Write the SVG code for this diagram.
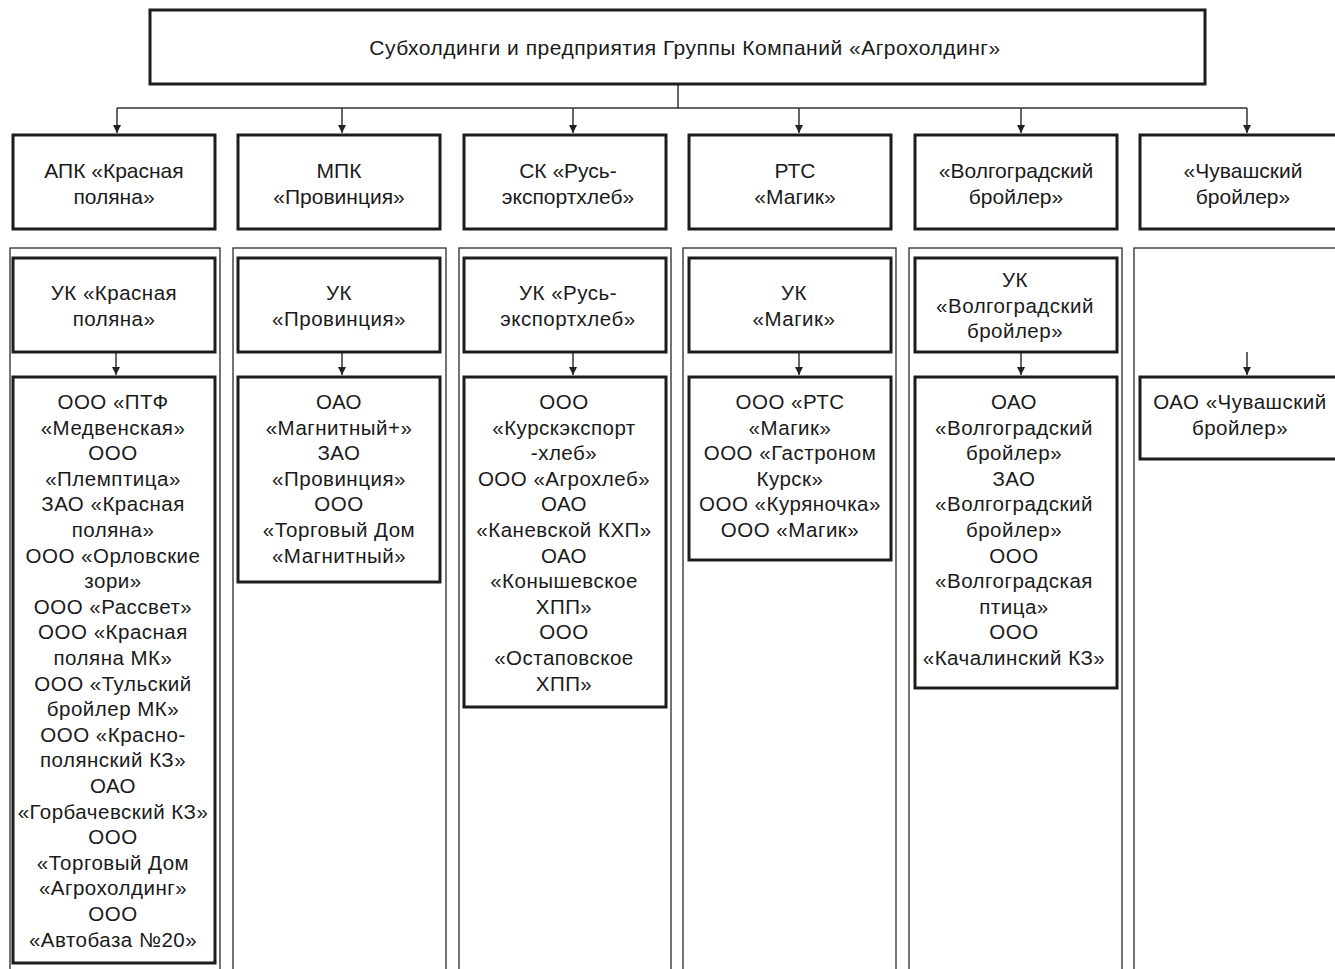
<svg xmlns="http://www.w3.org/2000/svg" width="1335" height="969" viewBox="0 0 1335 969">
<style>
.box{fill:#fff;stroke:#1c1c1c;stroke-width:3}
.col{fill:none;stroke:#3a3a3a;stroke-width:1.4}
.conn{fill:none;stroke:#333;stroke-width:1.5}
text{font-family:"Liberation Sans",Arial,sans-serif;fill:#1a1a1a;text-anchor:middle}
.t1{font-size:21px;letter-spacing:0.5px}
.t2{font-size:21px}
.t3{font-size:20.5px;letter-spacing:0.5px}
</style>
<defs>
<marker id="ah" viewBox="0 0 10 10" refX="10" refY="5" markerWidth="8" markerHeight="8" markerUnits="userSpaceOnUse" orient="auto">
<path d="M0,0 L10,5 L0,10 z" fill="#222"/>
</marker>
</defs>
<rect x="0" y="0" width="1335" height="969" fill="#fff"/>

<g id="columns">
<rect class="col" x="10" y="248" width="210" height="740"/>
<rect class="col" x="233" y="248" width="213" height="740"/>
<rect class="col" x="459" y="248" width="212" height="740"/>
<rect class="col" x="683" y="248" width="213" height="740"/>
<rect class="col" x="909" y="248" width="213" height="740"/>
<rect class="col" x="1134" y="248" width="220" height="740"/>
</g>

<g id="connectors">
<path class="conn" d="M678,84 V108 M117,108 H1247"/>
<path class="conn" d="M117,108 V133" marker-end="url(#ah)"/>
<path class="conn" d="M342,108 V133" marker-end="url(#ah)"/>
<path class="conn" d="M573,108 V133" marker-end="url(#ah)"/>
<path class="conn" d="M799,108 V133" marker-end="url(#ah)"/>
<path class="conn" d="M1021,108 V133" marker-end="url(#ah)"/>
<path class="conn" d="M1247,108 V133" marker-end="url(#ah)"/>
<path class="conn" d="M116,352 V375" marker-end="url(#ah)"/>
<path class="conn" d="M342,352 V375" marker-end="url(#ah)"/>
<path class="conn" d="M573,352 V375" marker-end="url(#ah)"/>
<path class="conn" d="M799,352 V375" marker-end="url(#ah)"/>
<path class="conn" d="M1021,352 V375" marker-end="url(#ah)"/>
<path class="conn" d="M1247,352 V375" marker-end="url(#ah)"/>
</g>

<g id="root">
<rect class="box" x="150" y="10" width="1055" height="74"/>
<text class="t1" x="685" y="55">Субхолдинги и предприятия Группы Компаний «Агрохолдинг»</text>
</g>

<g id="l2-1"><rect class="box" x="13" y="135" width="202" height="94"/>
<text class="t2" x="114" y="178">АПК «Красная</text><text class="t2" x="114" y="204">поляна»</text></g>
<g id="l2-2"><rect class="box" x="238" y="135" width="202" height="94"/>
<text class="t2" x="339" y="178">МПК</text><text class="t2" x="339" y="204">«Провинция»</text></g>
<g id="l2-3"><rect class="box" x="464" y="135" width="202" height="94"/>
<text class="t2" x="568" y="178">СК «Русь-</text><text class="t2" x="568" y="204">экспортхлеб»</text></g>
<g id="l2-4"><rect class="box" x="689" y="135" width="202" height="94"/>
<text class="t2" x="795" y="178">РТС</text><text class="t2" x="795" y="204">«Магик»</text></g>
<g id="l2-5"><rect class="box" x="915" y="135" width="202" height="94"/>
<text class="t2" x="1016" y="178">«Волгоградский</text><text class="t2" x="1016" y="204">бройлер»</text></g>
<g id="l2-6"><rect class="box" x="1140" y="135" width="210" height="94"/>
<text class="t2" x="1243" y="178">«Чувашский</text><text class="t2" x="1243" y="204">бройлер»</text></g>

<g id="uk-1"><rect class="box" x="13" y="258" width="202" height="94"/>
<text class="t3" x="114" y="300">УК «Красная</text><text class="t3" x="114" y="326">поляна»</text></g>
<g id="uk-2"><rect class="box" x="238" y="258" width="202" height="94"/>
<text class="t3" x="339" y="300">УК</text><text class="t3" x="339" y="326">«Провинция»</text></g>
<g id="uk-3"><rect class="box" x="464" y="258" width="202" height="94"/>
<text class="t3" x="568" y="300">УК «Русь-</text><text class="t3" x="568" y="326">экспортхлеб»</text></g>
<g id="uk-4"><rect class="box" x="689" y="258" width="202" height="94"/>
<text class="t3" x="794" y="300">УК</text><text class="t3" x="794" y="326">«Магик»</text></g>
<g id="uk-5"><rect class="box" x="915" y="258" width="202" height="94"/>
<text class="t3" x="1015" y="287">УК</text><text class="t3" x="1015" y="313">«Волгоградский</text><text class="t3" x="1015" y="338">бройлер»</text></g>

<g id="list-1"><rect class="box" x="13" y="377" width="202" height="586"/>
<text class="t3" x="113" y="409">ООО «ПТФ</text>
<text class="t3" x="113" y="434.6">«Медвенская»</text>
<text class="t3" x="113" y="460.2">ООО</text>
<text class="t3" x="113" y="485.8">«Племптица»</text>
<text class="t3" x="113" y="511.4">ЗАО «Красная</text>
<text class="t3" x="113" y="537">поляна»</text>
<text class="t3" x="113" y="562.6">ООО «Орловские</text>
<text class="t3" x="113" y="588.2">зори»</text>
<text class="t3" x="113" y="613.8">ООО «Рассвет»</text>
<text class="t3" x="113" y="639.4">ООО «Красная</text>
<text class="t3" x="113" y="665">поляна МК»</text>
<text class="t3" x="113" y="690.6">ООО «Тульский</text>
<text class="t3" x="113" y="716.2">бройлер МК»</text>
<text class="t3" x="113" y="741.8">ООО «Красно-</text>
<text class="t3" x="113" y="767.4">полянский КЗ»</text>
<text class="t3" x="113" y="793">ОАО</text>
<text class="t3" x="113" y="818.6">«Горбачевский КЗ»</text>
<text class="t3" x="113" y="844.2">ООО</text>
<text class="t3" x="113" y="869.8">«Торговый Дом</text>
<text class="t3" x="113" y="895.4">«Агрохолдинг»</text>
<text class="t3" x="113" y="921">ООО</text>
<text class="t3" x="113" y="946.6">«Автобаза №20»</text>
</g>

<g id="list-2"><rect class="box" x="238" y="377" width="202" height="205"/>
<text class="t3" x="339" y="409">ОАО</text>
<text class="t3" x="339" y="434.6">«Магнитный+»</text>
<text class="t3" x="339" y="460.2">ЗАО</text>
<text class="t3" x="339" y="485.8">«Провинция»</text>
<text class="t3" x="339" y="511.4">ООО</text>
<text class="t3" x="339" y="537">«Торговый Дом</text>
<text class="t3" x="339" y="562.6">«Магнитный»</text>
</g>

<g id="list-3"><rect class="box" x="464" y="377" width="202" height="330"/>
<text class="t3" x="564" y="409">ООО</text>
<text class="t3" x="564" y="434.6">«Курскэкспорт</text>
<text class="t3" x="564" y="460.2">-хлеб»</text>
<text class="t3" x="564" y="485.8">ООО «Агрохлеб»</text>
<text class="t3" x="564" y="511.4">ОАО</text>
<text class="t3" x="564" y="537">«Каневской КХП»</text>
<text class="t3" x="564" y="562.6">ОАО</text>
<text class="t3" x="564" y="588.2">«Конышевское</text>
<text class="t3" x="564" y="613.8">ХПП»</text>
<text class="t3" x="564" y="639.4">ООО</text>
<text class="t3" x="564" y="665">«Остаповское</text>
<text class="t3" x="564" y="690.6">ХПП»</text>
</g>

<g id="list-4"><rect class="box" x="689" y="377" width="202" height="183"/>
<text class="t3" x="790" y="409">ООО «РТС</text>
<text class="t3" x="790" y="434.6">«Магик»</text>
<text class="t3" x="790" y="460.2">ООО «Гастроном</text>
<text class="t3" x="790" y="485.8">Курск»</text>
<text class="t3" x="790" y="511.4">ООО «Куряночка»</text>
<text class="t3" x="790" y="537">ООО «Магик»</text>
</g>

<g id="list-5"><rect class="box" x="915" y="377" width="202" height="311"/>
<text class="t3" x="1014" y="409">ОАО</text>
<text class="t3" x="1014" y="434.6">«Волгоградский</text>
<text class="t3" x="1014" y="460.2">бройлер»</text>
<text class="t3" x="1014" y="485.8">ЗАО</text>
<text class="t3" x="1014" y="511.4">«Волгоградский</text>
<text class="t3" x="1014" y="537">бройлер»</text>
<text class="t3" x="1014" y="562.6">ООО</text>
<text class="t3" x="1014" y="588.2">«Волгоградская</text>
<text class="t3" x="1014" y="613.8">птица»</text>
<text class="t3" x="1014" y="639.4">ООО</text>
<text class="t3" x="1014" y="665">«Качалинский КЗ»</text>
</g>

<g id="list-6"><rect class="box" x="1140" y="377" width="210" height="82"/>
<text class="t3" x="1240" y="409">ОАО «Чувашский</text>
<text class="t3" x="1240" y="434.6">бройлер»</text>
</g>
</svg>
